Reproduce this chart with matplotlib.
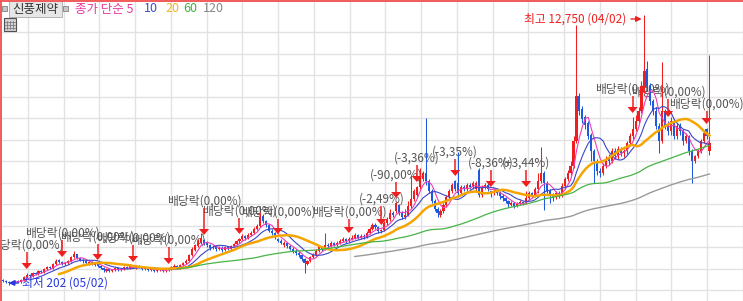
import numpy as np
import pandas as pd
import matplotlib
matplotlib.use('Agg')
import matplotlib.pyplot as plt
from matplotlib.patches import Rectangle, Polygon
from matplotlib.lines import Line2D

plt.rcParams['font.family'] = ['Noto Sans CJK KR', 'DejaVu Sans']

# 신풍제약 일봉 (차트 높이 단위로 읽은 값, 아래쪽 = 0)
opens = [21, 20, 19, 18, 19, 20, 19, 21, 24, 26,
         25, 28, 27, 30, 29, 32, 34, 33, 37, 41,
         39, 37, 38, 40, 44, 47, 43, 41, 40, 37,
         39, 36, 38, 35, 33, 30, 32, 30, 31, 33,
         31, 32, 34, 33, 35, 33, 35, 34, 32, 33,
         31, 32, 30, 31, 32, 30, 31, 32, 34, 35,
         33, 36, 38, 40, 46, 51, 55, 59, 61, 58,
         56, 53, 54, 52, 53, 51, 54, 52, 55, 57,
         60, 62, 65, 63, 66, 68, 72, 75, 85, 80,
         76, 70, 68, 62, 60, 56, 58, 55, 52, 50,
         48, 46, 42, 37, 40, 44, 46, 50, 54, 52,
         56, 55, 58, 56, 58, 60, 62, 60, 62, 63,
         66, 63, 65, 64, 68, 72, 76, 74, 70, 71,
         78, 82, 88, 90, 96, 88, 84, 86, 95, 102,
         106, 114, 122, 128, 120, 110, 100, 92, 86, 90,
         96, 104, 110, 120, 118, 108, 114, 112, 116, 114,
         112, 131, 106, 114, 116, 110, 108, 110, 108, 105,
         103, 100, 96, 98, 95, 97, 99, 98, 103, 108,
         105, 112, 120, 128, 118, 110, 106, 104, 108, 105,
         115, 122, 128, 135, 160, 205, 192, 184, 178, 166,
         150, 140, 130, 128, 135, 142, 140, 150, 145, 152,
         148, 150, 158, 165, 172, 180, 190, 214, 232, 215,
         200, 190, 175, 160, 190, 175, 170, 180, 165, 175,
         170, 160, 165, 150, 140, 145, 150, 160, 172, 150]
highs = [22, 21, 20, 20, 21, 21, 22, 25, 28, 27,
         29, 29, 31, 31, 33, 35, 35, 38, 42, 42,
         40, 39, 41, 45, 50, 47, 44, 42, 41, 40,
         40, 39, 37, 36, 34, 33, 33, 32, 34, 34,
         33, 35, 35, 37, 35, 36, 36, 35, 34, 34,
         33, 33, 32, 33, 33, 32, 33, 35, 37, 36,
         37, 39, 42, 47, 54, 57, 62, 68, 62, 60,
         57, 56, 56, 55, 55, 55, 55, 56, 58, 61,
         63, 67, 66, 68, 70, 74, 77, 89, 87, 81,
         77, 72, 69, 63, 62, 60, 59, 56, 54, 52,
         50, 47, 43, 41, 45, 48, 52, 56, 55, 68,
         58, 60, 59, 60, 62, 64, 63, 64, 66, 68,
         67, 67, 67, 70, 74, 78, 78, 75, 72, 80,
         84, 92, 90, 99, 97, 90, 92, 100, 126, 112,
         115, 133, 130, 183, 122, 112, 102, 94, 92, 98,
         106, 112, 118, 121, 149, 116, 116, 118, 118, 120,
         120, 133, 116, 118, 118, 110, 112, 112, 110, 107,
         104, 101, 100, 99, 99, 101, 100, 110, 110, 109,
         114, 128, 154, 130, 120, 112, 108, 110, 110, 118,
         124, 131, 140, 165, 276, 208, 195, 186, 180, 168,
         152, 142, 133, 138, 145, 147, 153, 153, 155, 154,
         152, 160, 168, 184, 186, 194, 220, 286, 240, 218,
         202, 194, 178, 239, 192, 180, 184, 182, 178, 178,
         172, 168, 166, 152, 146, 152, 162, 170, 173, 246]
lows = [19, 18, 16, 17, 18, 18, 18, 20, 23, 24,
        24, 26, 26, 28, 28, 31, 32, 32, 36, 38,
        36, 36, 37, 39, 43, 42, 40, 38, 37, 36,
        36, 35, 34, 32, 29, 29, 29, 29, 30, 30,
        30, 31, 32, 32, 33, 32, 33, 31, 31, 30,
        30, 29, 29, 30, 29, 29, 30, 31, 33, 32,
        32, 35, 37, 39, 45, 50, 54, 57, 56, 54,
        51, 52, 50, 51, 49, 50, 51, 51, 54, 56,
        58, 61, 61, 62, 65, 67, 71, 74, 78, 74,
        69, 66, 62, 59, 57, 54, 53, 51, 48, 46,
        44, 40, 28, 36, 39, 43, 45, 49, 50, 51,
        53, 54, 55, 55, 57, 59, 58, 59, 61, 62,
        62, 62, 62, 63, 67, 71, 72, 68, 68, 70,
        76, 80, 84, 88, 86, 82, 82, 85, 93, 100,
        104, 112, 120, 116, 108, 98, 90, 84, 84, 88,
        94, 102, 108, 110, 104, 106, 110, 110, 112, 112,
        110, 104, 104, 112, 110, 104, 106, 106, 102, 100,
        98, 94, 95, 93, 94, 96, 96, 97, 101, 103,
        104, 108, 118, 91, 108, 98, 100, 102, 103, 104,
        112, 120, 126, 133, 158, 186, 178, 172, 162, 140,
        118, 126, 124, 126, 133, 136, 138, 142, 142, 145,
        144, 147, 156, 162, 170, 178, 188, 208, 210, 196,
        186, 172, 148, 158, 172, 166, 166, 162, 162, 166,
        156, 158, 146, 118, 138, 143, 148, 158, 162, 146]
closes = [20, 19, 18, 19, 20, 19, 21, 24, 26, 25,
          28, 27, 30, 29, 32, 34, 33, 37, 40, 39,
          37, 38, 40, 44, 47, 43, 41, 40, 38, 39,
          37, 38, 35, 33, 31, 32, 30, 31, 33, 31,
          32, 34, 33, 36, 34, 35, 34, 32, 33, 31,
          32, 30, 31, 32, 30, 31, 32, 34, 35, 33,
          36, 38, 40, 46, 52, 56, 60, 63, 58, 56,
          53, 54, 52, 53, 51, 54, 52, 55, 57, 60,
          62, 65, 63, 66, 68, 72, 75, 84, 80, 76,
          70, 68, 64, 60, 58, 58, 55, 52, 50, 48,
          46, 42, 38, 40, 44, 46, 50, 54, 52, 56,
          55, 58, 56, 58, 60, 62, 60, 62, 63, 66,
          63, 65, 64, 68, 72, 76, 74, 70, 71, 78,
          82, 88, 86, 98, 88, 84, 86, 95, 102, 110,
          114, 124, 128, 120, 110, 100, 92, 88, 90, 96,
          104, 110, 116, 112, 108, 114, 112, 116, 114, 118,
          118, 106, 114, 116, 112, 108, 110, 108, 105, 103,
          100, 97, 98, 95, 97, 99, 98, 103, 108, 105,
          112, 120, 128, 118, 110, 106, 104, 108, 105, 115,
          122, 128, 135, 160, 205, 190, 182, 176, 165, 150,
          140, 130, 128, 135, 142, 140, 150, 145, 152, 148,
          150, 158, 165, 172, 180, 190, 215, 230, 215, 200,
          190, 175, 160, 190, 175, 170, 180, 165, 175, 170,
          160, 165, 150, 140, 145, 150, 160, 168, 165, 158]

ma_periods = [5, 10, 20, 60, 120]
ma_colors = ['#f03cb4', '#3c46c8', '#f5a500', '#46b446', '#9a9a9a']
ma_widths = [0.8, 0.8, 1.8, 0.9, 1.0]

# 배당락 / 권리락 표시
event_idx = [8, 20, 32, 44, 56, 68, 80, 93, 117,
             128, 133, 140, 153, 165, 177, 213, 225, 238]
event_text = ['배당락(0,00%)'] * 9 + ['(-2,49%)', '(-90,00%)', '(-3,36%)',
                                     '(-3,35%)', '(-8,36%)', '(+3,44%)'] + ['배당락(0,00%)'] * 3
label_off = [24, 24, 23, 24, 24, 34, 23, 22, 21, 26, 23, 24, 24, 24, 24, 24, 25, 20]

hi_text = '최고 12,750 (04/02)'
lo_text = '최저 202 (05/02)'

W, H = 743, 301
x0, step = 3, 2.96
RED, BLUE = '#f01e1e', '#1e5adc'

fig = plt.figure(figsize=(W / 100, H / 100), dpi=100)
ax = fig.add_axes([0, 0, 1, 1])
ax.set_xlim(-x0 / step, (W - x0) / step)
ax.set_ylim(0, H)
for s in ax.spines.values():
    s.set_visible(False)
ax.set_xticks([(28 + 35.8 * k - x0) / step for k in range(21)])
ax.set_yticks([H - (32 + 21.5 * k) for k in range(13)])
ax.tick_params(length=0, labelbottom=False, labelleft=False)
ax.grid(True, color='#e2e2e2', lw=1.0, zorder=0)
ax.set_axisbelow(True)

o = np.array(opens)
hi = np.array(highs)
lo = np.array(lows)
c = np.array(closes)
idx = np.arange(len(c))
col = np.where(c >= o, RED, BLUE)

ax.vlines(idx, lo, hi, colors=col, lw=0.75, zorder=3)
ax.bar(idx, np.maximum(np.abs(c - o), 1.2), bottom=np.minimum(o, c), width=0.72,
       color=col, lw=0, zorder=4)

s = pd.Series(closes)
for p, mc, lw in zip(ma_periods, ma_colors, ma_widths):
    ax.plot(idx, s.rolling(p).mean(), color=mc, lw=lw, zorder=5)

for k, (i, txt) in enumerate(zip(event_idx, event_text)):
    tip = highs[i] + 4
    ax.add_patch(Polygon([[i - 1.7, tip + 6], [i + 1.7, tip + 6], [i, tip]],
                         closed=True, color=RED, lw=0, zorder=6))
    ax.vlines(i, tip + 5, tip + label_off[k] - 7, color=RED, lw=1.1, zorder=6)
    ax.text(i, tip + label_off[k], txt, ha='center', va='center',
            fontsize=8.5, color='#555555', zorder=2)

# 최고 / 최저
imax = int(np.argmax(hi))
ax.annotate('', xy=(imax, hi[imax] - 4), xytext=(imax - 5.5, hi[imax] - 4),
            arrowprops=dict(arrowstyle='-|>', color=RED, lw=1, mutation_scale=8), zorder=7)
ax.text(imax - 6, hi[imax] - 4, hi_text, ha='right', va='center', fontsize=8.5, color=RED, zorder=7)
imin = int(np.argmin(lo))
ax.annotate('', xy=(imin - 1, lo[imin] + 2), xytext=(imin + 4, lo[imin] + 2),
            arrowprops=dict(arrowstyle='-|>', color='#2838e0', lw=1, mutation_scale=8), zorder=7)
ax.text(imin + 4.4, lo[imin] + 2, lo_text, ha='left', va='center', fontsize=8.5,
        color='#2838e0', zorder=7)


# 상단 헤더
def fx(x):
    return x / W


def fy(y):
    return 1 - y / H


tf = fig.transFigure
fig.add_artist(Rectangle((fx(2), fy(11)), 5 / W, 5 / H, transform=tf,
                         facecolor='#c8c8c8', edgecolor='#808080', lw=0.6))
fig.add_artist(Rectangle((fx(9), fy(17)), 53 / W, 16 / H, transform=tf,
                         facecolor='#e6e6e6', edgecolor='#a8a8a8', lw=0.6))
fig.text(fx(35.5), fy(9), '신풍제약', ha='center', va='center', fontsize=9, color='#333333')
fig.add_artist(Rectangle((fx(63), fy(11)), 5 / W, 5 / H, transform=tf,
                         facecolor='#c8c8c8', edgecolor='#808080', lw=0.6))
head = [('종가 단순 5', 75, '#e8369e'), ('10', 144, '#3c50c8'), ('20', 165, '#f0b428'),
        ('60', 183, '#3cb43c'), ('120', 203, '#888888')]
for t, xp, hc in head:
    fig.text(fx(xp), fy(9), t, ha='left', va='center', fontsize=9, color=hc)

# 그리드 아이콘
fig.add_artist(Rectangle((fx(4), fy(31)), 12 / W, 13 / H, transform=tf,
                         facecolor='#d4d4d4', edgecolor='#505050', lw=0.8))
for gx in (7, 10, 13):
    fig.add_artist(Line2D([fx(gx), fx(gx)], [fy(21), fy(29)], transform=tf, color='#707070', lw=0.5))
for gy in (22, 25, 28):
    fig.add_artist(Line2D([fx(5), fx(15)], [fy(gy), fy(gy)], transform=tf, color='#707070', lw=0.5))

# 선택 테두리
fig.add_artist(Line2D([0, 1], [fy(0.6), fy(0.6)], transform=tf, color='#f05a5a', lw=1.4))
fig.add_artist(Line2D([fx(0.6), fx(0.6)], [0, 1], transform=tf, color='#f05a5a', lw=1.4))

fig.savefig('out.png', dpi=100)
